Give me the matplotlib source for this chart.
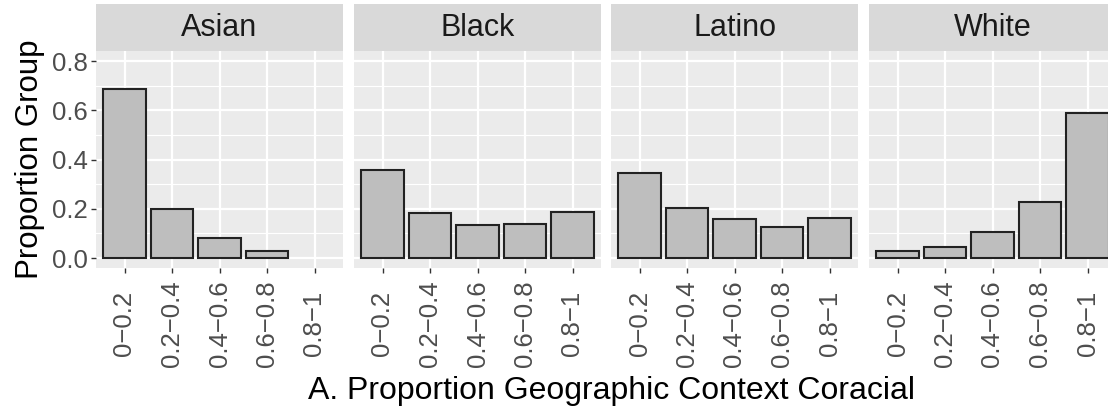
import matplotlib
matplotlib.use("Agg")
import matplotlib.pyplot as plt
import numpy as np

plt.rcParams['font.family'] = ['Liberation Sans', 'DejaVu Sans']

categories = ["0\u22120.2", "0.2\u22120.4", "0.4\u22120.6", "0.6\u22120.8", "0.8\u22121"]
groups = ["Asian", "Black", "Latino", "White"]
asian = [0.685, 0.200, 0.082, 0.030, 0.0]
black = [0.359, 0.184, 0.136, 0.138, 0.187]
latino = [0.345, 0.204, 0.158, 0.128, 0.164]
white = [0.030, 0.046, 0.107, 0.227, 0.588]
values = [asian, black, latino, white]
yticks = [0.0, 0.2, 0.4, 0.6, 0.8]
yticklabels = ["0.0", "0.2", "0.4", "0.6", "0.8"]

W, H = 1108, 417
fig = plt.figure(figsize=(W / 100, H / 100), dpi=100)

lefts = [96, 354, 611, 869]
pw = 247
ptop, pbot = 51, 268
stop = 4

x = np.arange(len(categories))
for i, (g, vals) in enumerate(zip(groups, values)):
    ax = fig.add_axes([lefts[i] / W, 1 - pbot / H, pw / W, (pbot - ptop) / H])
    ax.set_facecolor('#EBEBEB')
    for s in ax.spines.values():
        s.set_visible(False)
    ax.set_xlim(-0.6, len(categories) - 0.4)
    ax.set_ylim(-0.0406, 0.841)
    for yv in [0.1, 0.3, 0.5, 0.7]:
        ax.axhline(yv, color='white', lw=0.8, zorder=0.5)
    for yv in yticks:
        ax.axhline(yv, color='white', lw=1.6, zorder=0.6)
    for xv in x:
        ax.axvline(xv, color='white', lw=1.6, zorder=0.6)
    vals = np.array(vals)
    keep = vals > 0
    ax.bar(x[keep], vals[keep], width=0.9, color='#BEBEBE', edgecolor='#222222',
           linewidth=1.5, zorder=2)
    ax.set_xticks(x, labels=categories, rotation=90, va='center', ha='center')
    ax.tick_params(axis='x', length=3.6, width=1.0, color='#333333', labelsize=18.5,
                   labelcolor='#4D4D4D', pad=36.5)
    if i == 0:
        ax.set_yticks(yticks, labels=yticklabels)
        ax.tick_params(axis='y', length=3.6, width=1.0, color='#333333', labelsize=18.5,
                       labelcolor='#4D4D4D', pad=2.5)
        ax.set_ylabel("Proportion Group", fontsize=22.5, color='black', labelpad=5)
    else:
        ax.set_yticks(yticks)
        ax.tick_params(axis='y', length=0, labelleft=False)
    sax = fig.add_axes([lefts[i] / W, 1 - ptop / H, pw / W, (ptop - stop) / H])
    sax.set_facecolor('#D9D9D9')
    sax.set_xticks([]); sax.set_yticks([])
    for s in sax.spines.values():
        s.set_visible(False)
    sax.text(0.5, 0.5, g, transform=sax.transAxes, ha='center', va='center',
             fontsize=22, color='#1A1A1A')

fig.text(612 / W, 1 - 391 / H, "A. Proportion Geographic Context Coracial",
         ha='center', va='center', fontsize=23, color='black')

fig.savefig("out.png", dpi=100)
